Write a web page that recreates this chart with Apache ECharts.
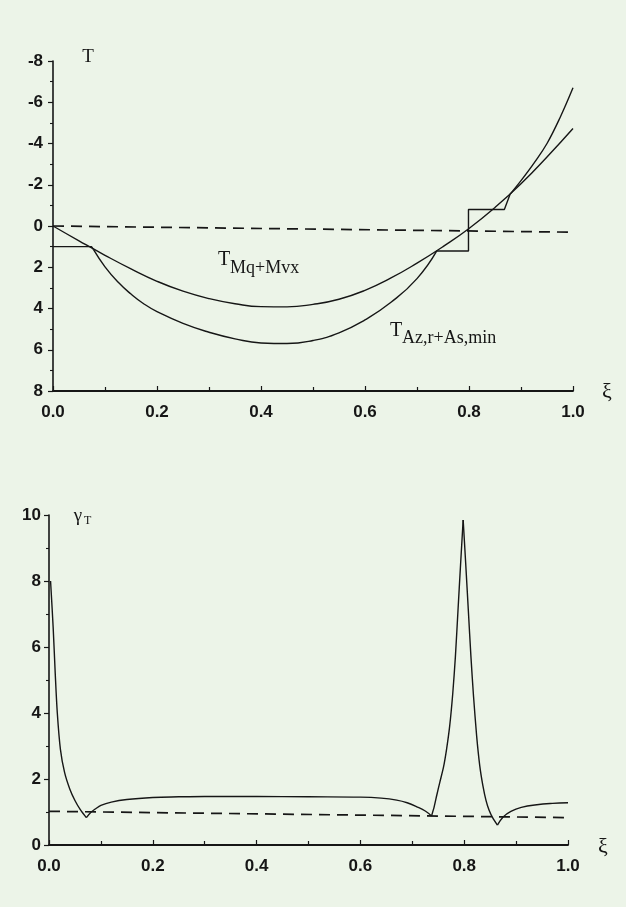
<!DOCTYPE html>
<html><head><meta charset="utf-8">
<script src="https://cdn.jsdelivr.net/npm/echarts@6/dist/echarts.min.js"></script>
<style>html,body{margin:0;padding:0;background:#ecf4e8;}#c{width:626px;height:907px;}</style>
</head><body><div id="c"></div>
<script>
// ---- Top chart: T over xi (y axis inverted) ----
const tMqMvx = [[0,0],[0.05,0.72],[0.1,1.42],[0.15,2.08],[0.2,2.68],[0.25,3.16],[0.3,3.52],[0.35,3.77],[0.4,3.91],[0.45,3.92],[0.5,3.8],[0.55,3.55],[0.6,3.12],[0.65,2.52],[0.7,1.8],[0.75,1.0],[0.8,0.12],[0.85,-0.9],[0.9,-2.05],[0.95,-3.35],[1.0,-4.73]];
const asMinLeft = [[0,1.0],[0.074,1.0],[0.078,1.15]];
const tAzCurve = [[0.078,1.15],[0.1,1.98],[0.125,2.72],[0.15,3.3],[0.175,3.78],[0.2,4.15],[0.25,4.72],[0.3,5.15],[0.35,5.47],[0.4,5.67],[0.45,5.7],[0.5,5.55],[0.55,5.18],[0.6,4.55],[0.65,3.7],[0.7,2.55],[0.738,1.21]];
const asMinRight = [[0.738,1.21],[0.799,1.21],[0.799,-0.8],[0.868,-0.8],[0.879,-1.54]];
const tAzRight = [[0.879,-1.54],[0.9,-2.2],[0.925,-3.05],[0.95,-4.0],[0.975,-5.25],[1.0,-6.7]];
const topRefLine = [[0,0],[1.0,0.3]];
const topYRange = [-8, 8], topYStep = 2;

// ---- Bottom chart: gamma_T over xi ----
const gammaLeft = [[0.003,8.0],[0.008,6.6],[0.012,5.2],[0.016,4.0],[0.022,2.9],[0.03,2.2],[0.04,1.7],[0.05,1.35],[0.06,1.08],[0.072,0.83]];
const gammaMid = [[0.072,0.83],[0.08,0.98],[0.09,1.1],[0.1,1.2],[0.12,1.3],[0.15,1.38],[0.2,1.44],[0.25,1.46],[0.3,1.47],[0.4,1.47],[0.5,1.46],[0.6,1.45],[0.64,1.42],[0.67,1.36],[0.69,1.28],[0.71,1.15],[0.725,1.03],[0.737,0.88]];
const gammaSpikeUp = [[0.737,0.88],[0.742,1.15],[0.747,1.5],[0.753,1.9],[0.76,2.35],[0.766,2.9],[0.772,3.6],[0.778,4.6],[0.783,5.7],[0.788,7.1],[0.793,8.5],[0.798,9.85]];
const gammaSpikeDown = [[0.798,9.85],[0.803,8.5],[0.808,7.1],[0.813,5.7],[0.818,4.5],[0.824,3.3],[0.83,2.4],[0.836,1.8],[0.842,1.35],[0.848,1.05],[0.855,0.82],[0.864,0.6]];
const gammaRight = [[0.864,0.6],[0.875,0.85],[0.89,1.02],[0.91,1.14],[0.94,1.22],[0.97,1.26],[1.0,1.28]];
const bottomRefLine = [[0,1.02],[1.0,0.83]];
const bottomYRange = [0, 10], bottomYStep = 2;

const xiRange = [0, 1], xiStep = 0.2;

const INK = '#161616';
const SANS = '"Liberation Sans", Arial, sans-serif';
const SERIF = '"Liberation Serif", "Times New Roman", serif';

const chart = echarts.init(document.getElementById('c'), null, {renderer:'canvas'});

function xAxisCfg(gi){
  return {gridIndex:gi, type:'value', min:xiRange[0], max:xiRange[1], interval:xiStep,
    axisLine:{show:true, onZero:false, lineStyle:{color:INK, width:1.8}},
    axisTick:{show:true, inside:true, length:5, lineStyle:{color:INK, width:1.2}},
    minorTick:{show:true, splitNumber:2, length:4, lineStyle:{color:INK, width:1.2}},
    splitLine:{show:false}, minorSplitLine:{show:false},
    axisLabel:{margin:13, color:INK, fontFamily:SANS, fontWeight:'bold', fontSize:17, formatter:v=>v.toFixed(1)}};
}
function yAxisCfg(gi, range, step, inverse, margin){
  return {gridIndex:gi, type:'value', min:range[0], max:range[1], interval:step, inverse:inverse,
    axisLine:{show:true, onZero:false, lineStyle:{color:INK, width:1.6}},
    axisTick:{show:true, length:5, lineStyle:{color:INK, width:1.2}},
    minorTick:{show:true, splitNumber:2, length:3, lineStyle:{color:INK, width:1.1}},
    splitLine:{show:false}, minorSplitLine:{show:false},
    axisLabel:{margin:margin, color:INK, fontFamily:SANS, fontWeight:'bold', fontSize:17}};
}
function line(data, gi, smooth, dashed){
  return {type:'line', xAxisIndex:gi, yAxisIndex:gi, data:data, showSymbol:false, symbol:'none',
    smooth:smooth, smoothConstraint:false, animation:false, silent:true,
    lineStyle:{color:INK, width: dashed ? 1.7 : 1.4, type: dashed ? [11,7] : 'solid'}};
}

const option = {
  backgroundColor:'#ecf4e8',
  animation:false,
  grid:[
    {left:53, top:61, width:520, height:330},
    {left:49, top:515, width:519, height:330}
  ],
  xAxis:[xAxisCfg(0), xAxisCfg(1)],
  yAxis:[yAxisCfg(0, topYRange, topYStep, true, 10), yAxisCfg(1, bottomYRange, bottomYStep, false, 8)],
  series:[
    line(topRefLine, 0, false, true),
    line(tMqMvx, 0, 0.5, false),
    line(asMinLeft, 0, false, false),
    line(tAzCurve, 0, 0.5, false),
    line(asMinRight, 0, false, false),
    line(tAzRight, 0, 0.4, false),
    line(bottomRefLine, 1, false, true),
    line(gammaLeft, 1, 0.3, false),
    line(gammaMid, 1, 0.4, false),
    line(gammaSpikeUp, 1, 0.25, false),
    line(gammaSpikeDown, 1, 0.25, false),
    line(gammaRight, 1, 0.4, false)
  ],
  graphic:[
    {type:'text', x:88, y:57, style:{text:'T', font:'19px '+SERIF, fill:INK, textAlign:'center', textVerticalAlign:'middle'}},
    {type:'text', x:607, y:392, style:{text:'ξ', font:'22px '+SERIF, fill:INK, textAlign:'center', textVerticalAlign:'middle'}},
    {type:'text', x:218, y:260, style:{text:'T', font:'20px '+SERIF, fill:INK, textAlign:'left', textVerticalAlign:'middle'}},
    {type:'text', x:230, y:268, style:{text:'Mq+Mvx', font:'18px '+SERIF, fill:INK, textAlign:'left', textVerticalAlign:'middle'}},
    {type:'text', x:390, y:331, style:{text:'T', font:'20px '+SERIF, fill:INK, textAlign:'left', textVerticalAlign:'middle'}},
    {type:'text', x:402, y:338, style:{text:'Az,r+As,min', font:'18px '+SERIF, fill:INK, textAlign:'left', textVerticalAlign:'middle'}},
    {type:'text', x:78, y:516, style:{text:'γ', font:'19px '+SERIF, fill:INK, textAlign:'center', textVerticalAlign:'middle'}},
    {type:'text', x:84, y:521, style:{text:'T', font:'12px '+SERIF, fill:INK, textAlign:'left', textVerticalAlign:'middle'}},
    {type:'text', x:603, y:847, style:{text:'ξ', font:'22px '+SERIF, fill:INK, textAlign:'center', textVerticalAlign:'middle'}}
  ]
};
chart.setOption(option);
</script></body></html>
